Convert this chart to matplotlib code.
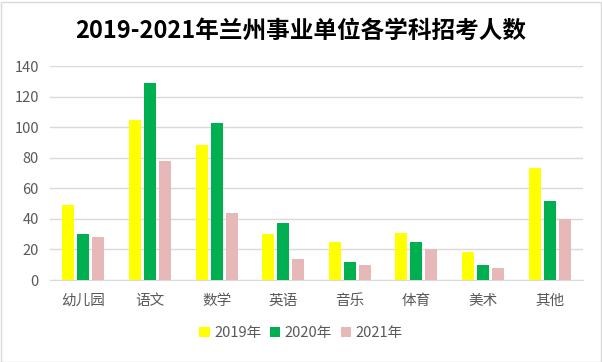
import numpy as np
import matplotlib.pyplot as plt
from matplotlib.patches import Rectangle

plt.rcParams['font.family'] = ['Noto Sans CJK SC', 'DejaVu Sans']

subjects = ['幼儿园', '语文', '数学', '英语', '音乐', '体育', '美术', '其他']
y2019 = [49, 105, 88, 30, 25, 31, 18, 73]
y2020 = [30, 129, 103, 37, 12, 25, 10, 52]
y2021 = [28, 78, 44, 14, 10, 20, 8, 40]
series = ['2019年', '2020年', '2021年']
colors = ['#FFFF00', '#00B050', '#E6B8B7']

fig = plt.figure(figsize=(6.02, 3.62), dpi=100)
ax = fig.add_axes([50/602, 1-280/362, 533/602, 214/362])

x = np.arange(len(subjects))
w = 0.18
step = 0.225
for i, (vals, c, lab) in enumerate(zip([y2019, y2020, y2021], colors, series)):
    ax.bar(x + (i-1)*step, vals, width=w, color=c, label=lab, zorder=3)

ax.set_xlim(-0.5, len(subjects)-0.5)
ax.set_ylim(0, 140)
ax.set_yticks(range(0, 141, 20))
ax.set_xticks(x)
ax.set_xticklabels(subjects)
ax.grid(axis='y', color='#d9d9d9', linewidth=1, zorder=0)
for s in ['top', 'right', 'left']:
    ax.spines[s].set_visible(False)
ax.spines['bottom'].set_color('#d9d9d9')
ax.tick_params(length=0, labelsize=10.5, colors='#595959', pad=8)
ax.tick_params(axis='x', pad=10)

fig.text(0.5, 1-31/362, '2019-2021年兰州事业单位各学科招考人数',
         ha='center', va='center', fontsize=17, fontweight='bold', color='black')

fig.legend(loc='center', bbox_to_anchor=(0.5, 1-333/362), ncol=3, frameon=False,
           fontsize=10.5, handlelength=0.7, handleheight=0.7, handletextpad=0.3,
           columnspacing=0.6, labelcolor='#595959')

fig.patches.append(Rectangle((0.5/602, 0.5/362), 1-2/602, 1-2/362, transform=fig.transFigure,
                             fill=False, edgecolor='#d9d9d9', linewidth=1))

fig.savefig('out.png', dpi=100)
